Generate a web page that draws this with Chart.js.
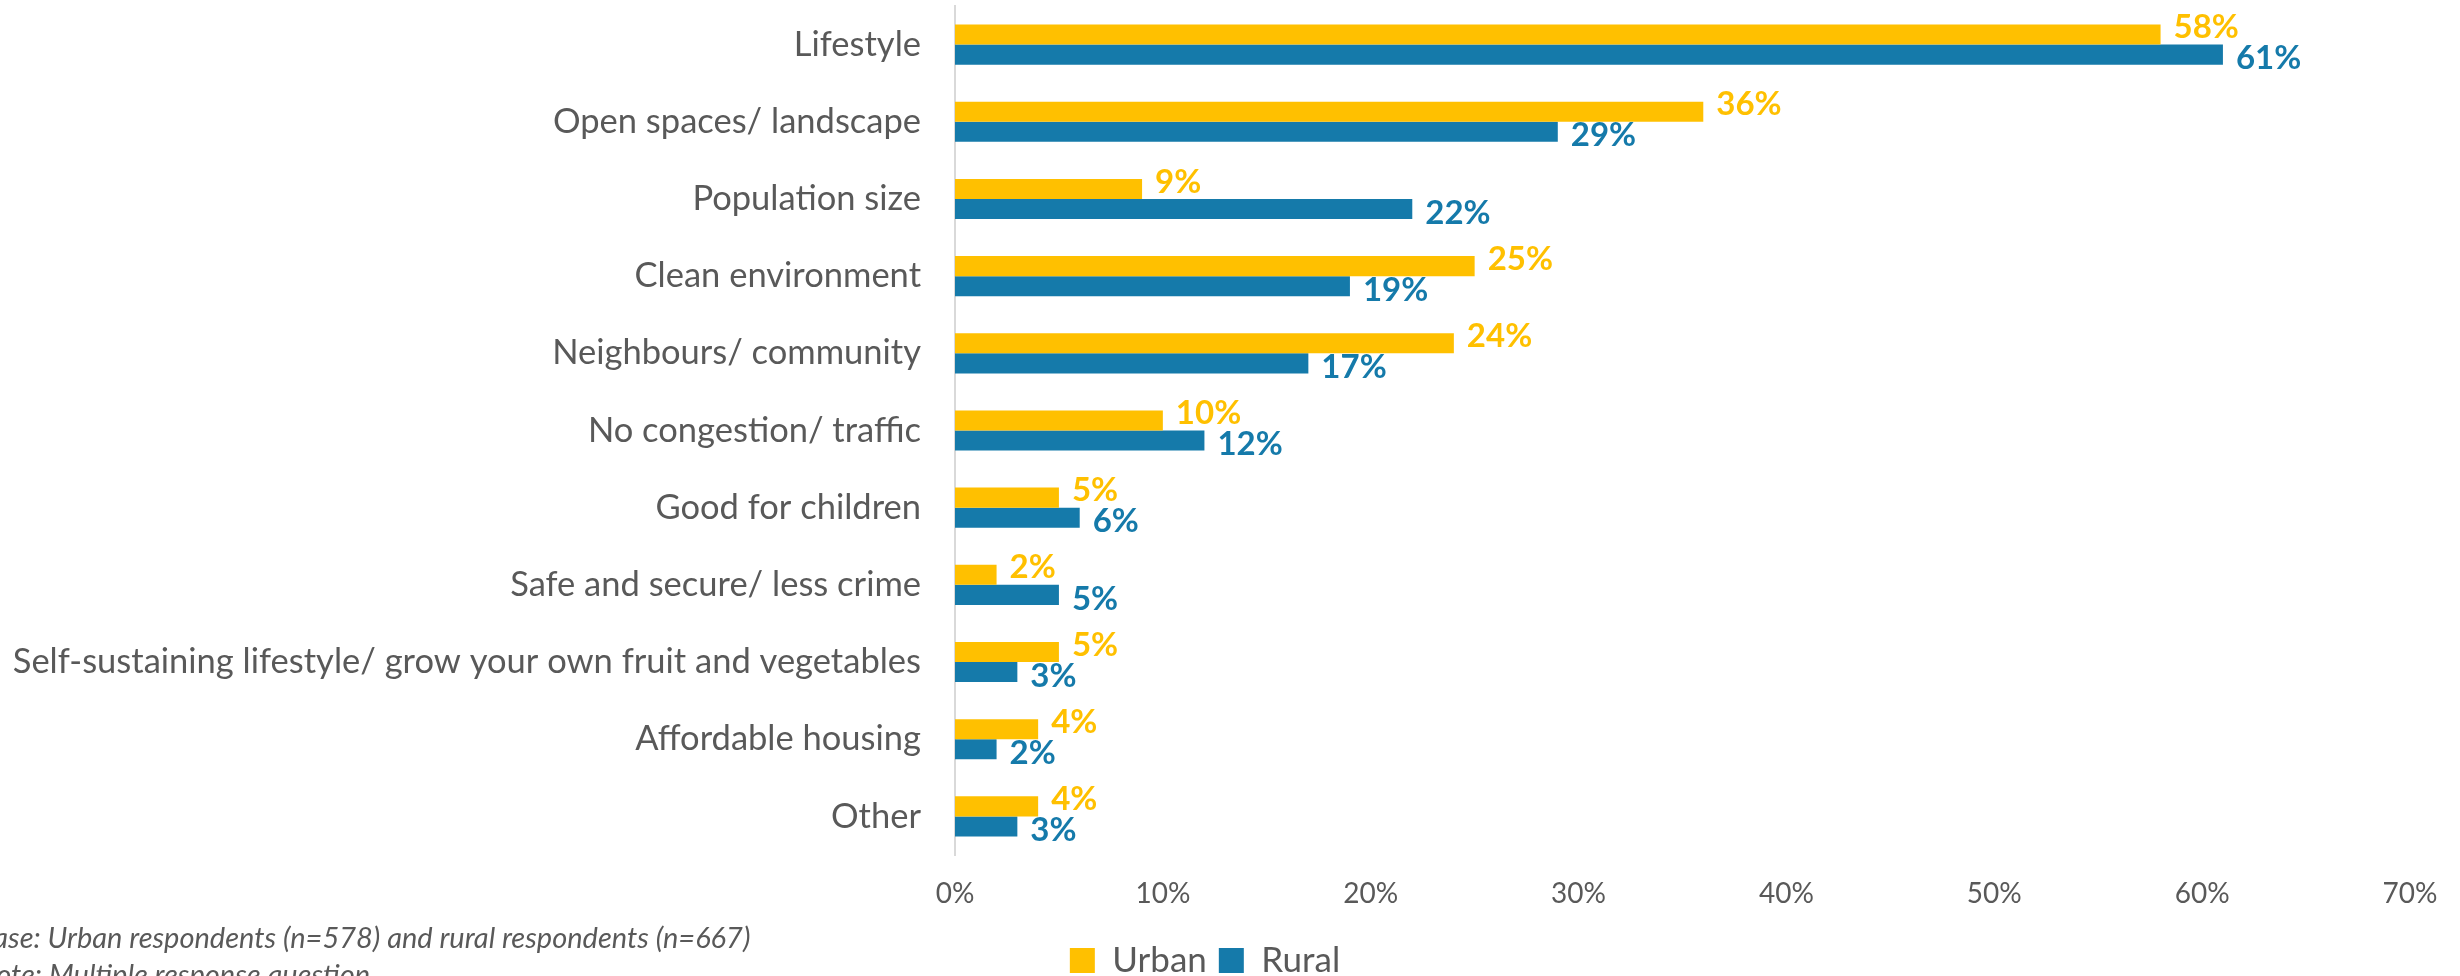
<!DOCTYPE html>
<html>
<head>
<meta charset="utf-8">
<script src="https://cdn.jsdelivr.net/npm/chart.js@4"></script>
<style>
  html, body { margin: 0; padding: 0; background: #fff; }
  #wrap { width: 2460px; height: 976px; position: relative; }
</style>
</head>
<body>
<div id="wrap"><canvas id="chart"></canvas></div>
<script>
// data
const categories = [
    'Lifestyle',
    'Open spaces/ landscape',
    'Population size',
    'Clean environment',
    'Neighbours/ community',
    'No congestion/ traffic',
    'Good for children',
    'Safe and secure/ less crime',
    'Self-sustaining lifestyle/ grow your own fruit and vegetables',
    'Affordable housing',
    'Other'
];
const urbanValues = [58, 36, 9, 25, 24, 10, 5, 2, 5, 4, 4];
const ruralValues = [61, 29, 22, 19, 17, 12, 6, 5, 3, 2, 3];
const seriesNames = ['Urban', 'Rural'];
const footnotes = [
    'Base: Urban respondents (n=578) and rural respondents (n=667)',
    'Note: Multiple response question'
];

const YELLOW = '#FFC000';
const BLUE = '#157AAA';
const GREY = '#595959';

// labels at the end of each bar, yellow a bit up, blue a bit down
const barLabels = {
    id: 'barLabels',
    afterDatasetsDraw(chart) {
        const ctx = chart.ctx;
        ctx.save();
        ctx.font = 'bold 33px Lato';
        ctx.textAlign = 'left';
        ctx.textBaseline = 'middle';
        chart.data.datasets.forEach((ds, i) => {
            const meta = chart.getDatasetMeta(i);
            ctx.fillStyle = ds.backgroundColor;
            meta.data.forEach((bar, j) => {
                const dy = i === 0 ? -7 : 4;
                ctx.fillText(ds.data[j] + '%', bar.x + 13, bar.y + dy);
            });
        });
        ctx.restore();
    }
};

// footnote text bottom-left (cut at the left edge like the original)
const footnotePlugin = {
    id: 'footnotes',
    afterDraw(chart) {
        const ctx = chart.ctx;
        ctx.save();
        ctx.font = 'italic 29px Lato';
        ctx.fillStyle = GREY;
        ctx.textBaseline = 'middle';
        ctx.fillText(footnotes[0], -24, 939);
        ctx.fillText(footnotes[1], -24, 976);
        ctx.restore();
    }
};

new Chart(document.getElementById('chart'), {
    type: 'bar',
    data: {
        labels: categories,
        datasets: [
            { label: seriesNames[0], data: urbanValues, backgroundColor: YELLOW },
            { label: seriesNames[1], data: ruralValues, backgroundColor: BLUE }
        ]
    },
    options: {
        indexAxis: 'y',
        responsive: true,
        maintainAspectRatio: false,
        animation: false,
        layout: { padding: { top: 6, right: 50, left: 0, bottom: -12 } },
        categoryPercentage: 0.52,
        barPercentage: 1.0,
        scales: {
            x: {
                min: 0,
                max: 70,
                ticks: {
                    stepSize: 10,
                    color: GREY,
                    font: { family: 'Lato', size: 28 },
                    padding: 22,
                    callback: v => v + '%'
                },
                grid: { display: false, drawTicks: false },
                border: { display: false },
                afterFit: s => { s.height = 76; }
            },
            y: {
                ticks: {
                    color: GREY,
                    font: { family: 'Lato', size: 34.5 },
                    padding: 34
                },
                grid: { display: false, drawTicks: false },
                border: { display: true, color: '#D9D9D9', width: 2 },
                afterFit: s => { s.width = 955; s.paddingTop = 0; s.paddingBottom = 0; }
            }
        },
        plugins: {
            legend: {
                position: 'bottom',
                labels: {
                    color: GREY,
                    font: { family: 'Lato', size: 35 },
                    boxWidth: 25,
                    boxHeight: 25,
                    padding: 12
                }
            },
            tooltip: { enabled: false }
        }
    },
    plugins: [barLabels, footnotePlugin]
});
</script>
</body>
</html>
